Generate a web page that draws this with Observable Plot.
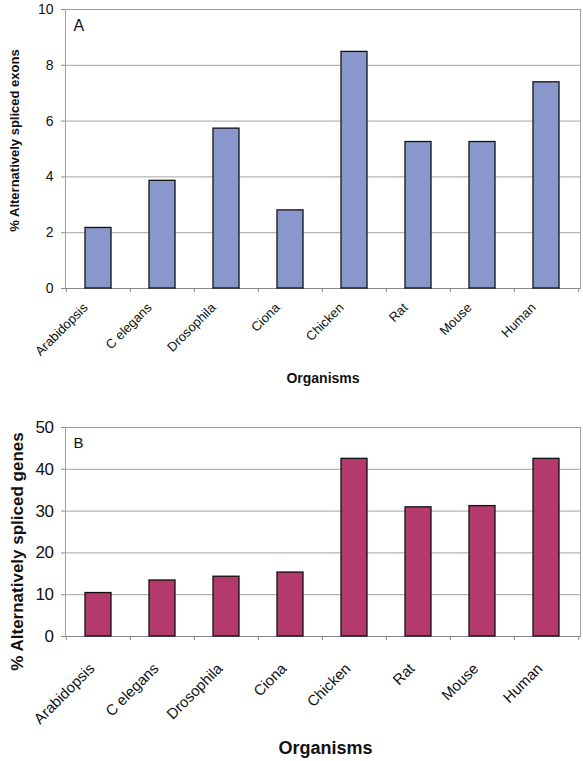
<!DOCTYPE html>
<html><head><meta charset="utf-8">
<script src="https://cdn.jsdelivr.net/npm/d3@7"></script>
<script src="https://cdn.jsdelivr.net/npm/@observablehq/plot@0.6"></script>
<style>
body{margin:0;background:#fff;}
#chart svg{display:block;}
g[aria-label="ylabelA"] text{letter-spacing:1.1px;}
g[aria-label="xtitleA"] text{letter-spacing:0.7px;}
g[aria-label="ylabelB"] text{letter-spacing:-0.6px;}
g[aria-label="xtitleB"] text{letter-spacing:-1.5px;}
g[aria-label="xlabelsB"] text{letter-spacing:-1.2px;}
#chart svg:nth-child(2) g[aria-label="y-axis tick label"] text{letter-spacing:-0.5px;}
</style>
</head><body><div id="chart"></div>
<script>
const organisms = ["Arabidopsis", "C elegans", "Drosophila", "Ciona", "Chicken", "Rat", "Mouse", "Human"];
const exonsPct = [2.17, 3.86, 5.73, 2.8, 8.48, 5.25, 5.25, 7.39];
const genesPct = [10.4, 13.4, 14.3, 15.3, 42.5, 30.9, 31.2, 42.5];
const yTicksA = [0, 2, 4, 6, 8, 10];
const yTicksB = [0, 10, 20, 30, 40, 50];
const panelA = "A", panelB = "B";
const yTitleA = "% Alternatively spliced exons";
const yTitleB = "% Alternatively spliced genes";
const xTitle = "Organisms";

const W = 583, ML = 65, MR = 3;
const step = (W - ML - MR) / organisms.length;
const FONT = "'Liberation Sans', Arial, Helvetica, sans-serif";

function panel(o) {
  const data = organisms.map((k, i) => ({organism: k, value: o.values[i]}));
  const last = organisms[organisms.length - 1];
  return Plot.plot({
    width: W, height: o.height,
    marginLeft: ML, marginRight: MR, marginTop: o.mt, marginBottom: o.mb,
    style: {fontFamily: FONT, background: "#fff", overflow: "visible"},
    x: {domain: organisms, paddingInner: 0.59, paddingOuter: 0.295},
    y: {domain: [o.ticks[0], o.ticks[o.ticks.length - 1]], axis: null},
    marks: [
      Plot.ruleY(o.ticks.slice(1, -1), {stroke: "#a4a4a4", strokeWidth: 1}),
      Plot.frame({stroke: "#a0a0a0", strokeWidth: 1}),
      Plot.ruleY([0], {stroke: "#8a8a8a", strokeWidth: 1}),
      Plot.barY(data, {x: "organism", y: "value", fill: o.fill, stroke: "#111", strokeWidth: 1.3}),
      Plot.axisY({ticks: o.ticks, tickSize: 4, tickPadding: 8, stroke: "#8a8a8a", fill: "#111",
        fontSize: o.yFont, label: null}),
      Plot.axisX({tickSize: 4, tickFormat: () => "", dx: -step / 2, stroke: "#8a8a8a", label: null}),
      Plot.axisX({ticks: [last], tickSize: 4, tickFormat: () => "", dx: step / 2, stroke: "#8a8a8a", label: null}),
      Plot.text(organisms, {x: d => d, text: d => d, frameAnchor: "bottom", textAnchor: "end", lineAnchor: "bottom",
        rotate: -45, dx: o.lx, dy: o.ly, fontSize: o.xFont, fill: "#111", ariaLabel: o.xLabAria}),
      Plot.text([o.letter], {text: d => d, frameAnchor: "top-left", textAnchor: "start", lineAnchor: "top",
        dx: 8, dy: 10, fontSize: o.letterFont, fill: "#111"}),
      Plot.text([o.yTitle], {text: d => d, frameAnchor: "left", textAnchor: "middle", lineAnchor: "middle",
        rotate: -90, dx: o.ytx, dy: o.yty, fontSize: o.yTitleFont, fontWeight: "bold", fill: "#111", ariaLabel: o.yTitleAria}),
      Plot.text([xTitle], {text: d => d, frameAnchor: "bottom", textAnchor: "middle", lineAnchor: "bottom",
        dx: o.xtx, dy: o.xty, fontSize: o.xTitleFont, fontWeight: "bold", fill: "#111", ariaLabel: o.xTitleAria})
    ]
  });
}

const chartA = panel({
  values: exonsPct, ticks: yTicksA, fill: "#8a97cc", letter: panelA, yTitle: yTitleA,
  height: 388, mt: 9, mb: 100,
  yFont: 14, xFont: 13, lx: -10, ly: 20, letterFont: 16,
  ytx: -51, yty: -8.5, yTitleFont: 13, xtx: 0, xty: 94, xTitleFont: 14,
  xLabAria: "xlabelsA", yTitleAria: "ylabelA", xTitleAria: "xtitleA"
});
const chartB = panel({
  values: genesPct, ticks: yTicksB, fill: "#b33a6b", letter: panelB, yTitle: yTitleB,
  height: 373, mt: 39, mb: 125,
  yFont: 17, xFont: 15, lx: -3, ly: 33, letterFont: 15,
  ytx: -48, yty: 19.5, yTitleFont: 17, xtx: 2.5, xty: 117, xTitleFont: 18,
  xLabAria: "xlabelsB", yTitleAria: "ylabelB", xTitleAria: "xtitleB"
});
document.getElementById("chart").append(chartA, chartB);
</script>
</body></html>
